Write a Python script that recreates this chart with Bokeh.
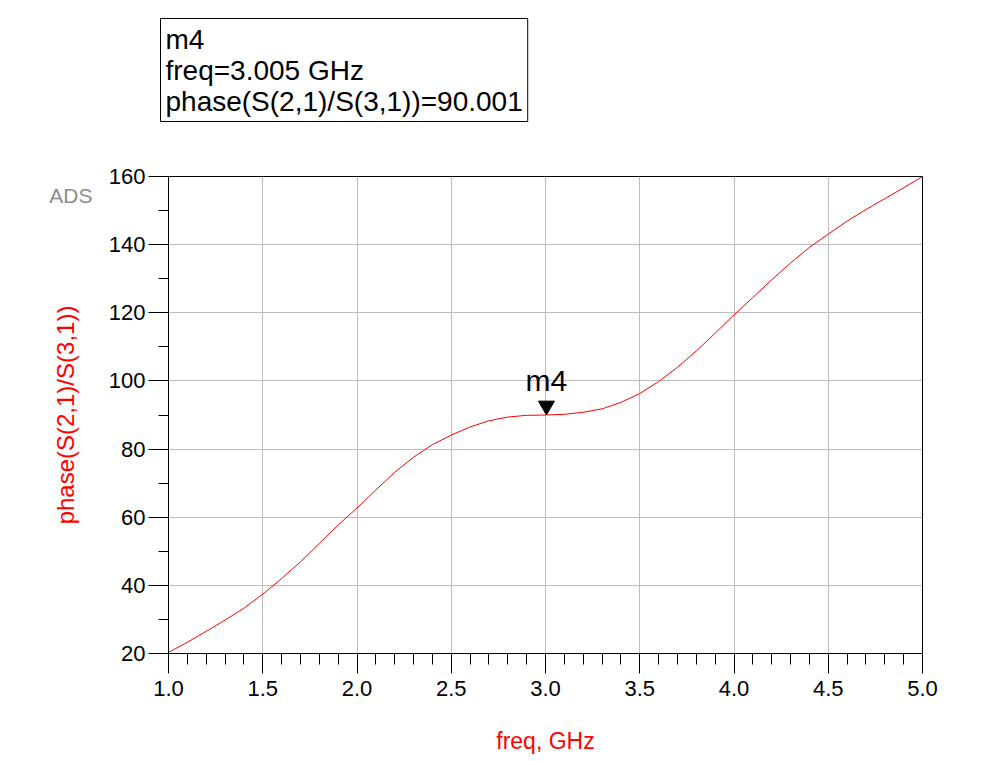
from bokeh.plotting import figure
from bokeh.models import (Label, Title, LinearAxis, FixedTicker, CustomJSTickFormatter,
                          SingleIntervalTicker, NumeralTickFormatter, Range1d)
from bokeh.embed import file_html
from bokeh.resources import INLINE

# freq sweep (GHz) and phase(S(2,1)/S(3,1)) in degrees
freq = [1.0, 1.1, 1.2, 1.3, 1.4, 1.5, 1.6, 1.7, 1.8, 1.9, 2.0,
        2.1, 2.2, 2.3, 2.4, 2.5, 2.6, 2.7, 2.8, 2.9, 3.0,
        3.1, 3.2, 3.3, 3.4, 3.5, 3.6, 3.7, 3.8, 3.9, 4.0,
        4.1, 4.2, 4.3, 4.4, 4.5, 4.6, 4.7, 4.8, 4.9, 5.0]
phase = [20.3, 23.3, 26.5, 29.8, 33.3, 37.4, 42.0, 46.9, 52.3, 57.7, 62.7,
         68.0, 73.2, 77.6, 81.3, 84.1, 86.5, 88.3, 89.4, 89.9, 90.0,
         90.2, 90.8, 91.8, 93.7, 96.3, 99.8, 104.0, 108.8, 114.0, 119.4,
         124.5, 129.7, 134.6, 139.2, 143.1, 146.9, 150.3, 153.5, 156.7, 160.0]

# marker m4
m_name = "m4"
m_freq = 3.005
m_phase = 90.001

FONT = "Liberation Sans"
W, H = 998, 760
L, R, T, B = 168, 76, 176, 107
frame_h = H - T - B
y0, y1 = 20, 160

# marker readout box (a bordered title, so it can sit outside the frame)
box_text = "%s\nfreq=%.3f GHz\nphase(S(2,1)/S(3,1))=%.3f" % (m_name, m_freq, m_phase)
title = Title(text=box_text, align="left", vertical_align="bottom", offset=-8, standoff=0,
              text_font=FONT, text_font_size="28px", text_font_style="normal",
              text_color="black", border_line_color="black", padding=5)

p = figure(width=W, height=H, output_backend="svg", toolbar_location=None, title=title,
           x_range=Range1d(1.0, 5.0), y_range=Range1d(y0, y1),
           min_border_left=L, min_border_right=R, min_border_top=T, min_border_bottom=B)
p.outline_line_color = "black"
p.outline_line_alpha = 1
p.background_fill_color = "white"
p.border_fill_color = "white"

xa, ya = p.below[0], p.left[0]

# bare axis above the frame: keeps a gap between the frame and the readout box
gap_axis = LinearAxis(ticker=FixedTicker(ticks=[m_freq], minor_ticks=[]),
                      formatter=CustomJSTickFormatter(code="return ''"),
                      axis_line_color=None, major_tick_line_color=None,
                      minor_tick_line_color=None, major_tick_in=0, minor_tick_in=0,
                      major_tick_out=55, minor_tick_out=0, major_label_standoff=0)
p.add_layout(gap_axis, "above")

p.line(freq, phase, line_color="red", line_width=1)

# marker triangle: tip sits on the marker point
tri_size = 16
tip = tri_size / 2 * 3 ** 0.5 * 2 / 3
p.scatter([m_freq], [m_phase + tip * (y1 - y0) / frame_h], marker="inverted_triangle",
          size=tri_size, fill_color="black", line_color="black")
p.add_layout(Label(x=m_freq, y=m_phase, y_offset=18, text=m_name, text_align="center",
                   text_baseline="bottom", text_font=FONT, text_font_size="30px",
                   text_color="black"))

# axes
xa.ticker = SingleIntervalTicker(interval=0.5, num_minor_ticks=5)
ya.ticker = SingleIntervalTicker(interval=20, num_minor_ticks=2)
xa.formatter = NumeralTickFormatter(format="0.0")
for ax in (xa, ya):
    ax.major_tick_in = 0
    ax.minor_tick_in = 0
    ax.major_tick_out = 20
    ax.axis_line_color = "black"
    ax.major_tick_line_color = "black"
    ax.minor_tick_line_color = "black"
    ax.major_label_text_font = FONT
    ax.major_label_text_font_size = "22px"
    ax.major_label_text_color = "black"
    ax.axis_label_text_font = FONT
    ax.axis_label_text_font_style = "normal"
    ax.axis_label_text_color = "red"
xa.minor_tick_out = 11
ya.minor_tick_out = 10
xa.major_label_standoff = 7
ya.major_label_standoff = 3
xa.axis_label = "freq, GHz"
ya.axis_label = "phase(S(2,1)/S(3,1))"
xa.axis_label_text_font_size = "23px"
ya.axis_label_text_font_size = "24px"
xa.axis_label_standoff = 29
ya.axis_label_standoff = 27

p.xgrid.grid_line_color = "#bdbdbd"
p.ygrid.grid_line_color = "#bdbdbd"

# "ADS" logo: a bare extra left axis with a single tick label
ads_at = 154.3
ads_axis = LinearAxis(ticker=FixedTicker(ticks=[ads_at], minor_ticks=[]),
                      formatter=CustomJSTickFormatter(code="return 'ADS'"),
                      axis_line_color=None, major_tick_line_color=None,
                      minor_tick_line_color=None, major_tick_out=0, minor_tick_out=0,
                      major_tick_in=0, minor_tick_in=0, major_label_standoff=-44,
                      major_label_text_font=FONT, major_label_text_font_size="21px",
                      major_label_text_color="#8c8c8c")
p.add_layout(ads_axis, "left")

open("out.html", "w").write(file_html(p, INLINE))
